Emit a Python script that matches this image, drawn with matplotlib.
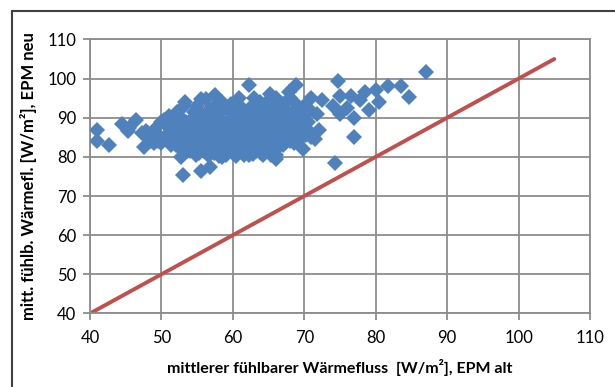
import matplotlib.pyplot as plt
from matplotlib.lines import Line2D

# EPM alt (x) vs EPM neu (y), mittlerer fuehlbarer Waermefluss [W/m2]
epm_alt = [
    41, 41, 42.7, 44.5, 45.3, 45.5, 46.5, 47.3, 47.5, 48.5, 49, 50, 50.3, 51, 49.5,
    53, 55.5, 56.8, 52.8, 58.5,
    53.2, 53.3, 55.5, 56.2, 57.5, 60.8, 62.2, 63, 65.2, 66, 67.8, 68.8, 68.5, 70,
    71, 72.5, 74, 74.7, 75, 75, 76, 76.5, 77, 77, 74.3, 77.8, 78.5, 79, 80, 80.5,
    81.7, 83.5, 84.7, 87, 69.8, 71, 71.5, 72, 71.8, 66, 65.3, 67.3, 70.5,
    50.5, 51, 51.5, 51.8, 52, 52.3, 52.5, 52.8, 53, 53.2, 53.5, 53.6, 53.8, 54,
    54.2, 54.4, 54.5, 54.7, 55, 55.1, 55.3, 55.5, 55.6, 55.8, 56, 56.1, 56.3, 56.4,
    56.6, 56.7, 56.9, 57, 57.2, 57.3, 57.5, 57.6, 57.8, 58, 58.1, 58.3, 58.4, 58.6,
    58.7, 58.9, 59, 59.2, 59.3, 59.5, 59.6, 59.8, 60, 60.1, 60.3, 60.4, 60.6, 60.7,
    60.9, 61, 61.2, 61.3, 61.5, 61.6, 61.8, 62, 62.1, 62.3, 62.4, 62.6, 62.7, 62.9,
    63, 63.2, 63.3, 63.5, 63.6, 63.8, 64, 64.1, 64.3, 64.4, 64.6, 64.7, 64.9, 65,
    65.2, 65.3, 65.5, 65.6, 65.8, 66, 66.1, 66.3, 66.4, 66.6, 66.7, 66.9, 67, 67.2,
    67.3, 67.5, 67.6, 67.8, 68, 68.1, 68.3, 68.4, 68.6, 68.8, 69, 69.2, 69.5, 69.8,
    70, 70.2, 70.5, 70.8,
    51, 51.3, 52, 52.6, 53.3, 53.9, 54.3, 54.8, 55.2, 55.7, 56.2, 56.5, 57.1, 57.4,
    57.9, 58.2, 58.8, 59.1, 59.4, 59.7, 60.2, 60.5, 60.8, 61.1, 61.4, 61.9, 62.2,
    62.5, 62.8, 63.1, 63.4, 63.7, 63.9, 64.2, 64.5, 64.8, 65.1, 65.4, 65.7, 66.2,
    66.5, 66.8, 67.1, 67.4, 67.7, 68.2, 68.5, 68.9, 69.3, 69.6, 70.3, 57.5, 58.5,
    59.8, 61, 62.5, 63.8, 64.5, 65.8, 67, 68, 69.2, 55, 54.5, 56, 52.2, 53, 66,
    64.2, 62.8, 60.5, 58, 56, 54, 52.5, 51.8, 50, 49.5, 50.8, 48, 47.8, 49,
]
epm_neu = [
    87, 84, 83, 88.5, 86.5, 87.5, 89.5, 86, 82.5, 84, 83.5, 89, 89.5, 90.5, 84,
    75.3, 76.5, 77.5, 80, 80,
    93, 94, 94.7, 94.7, 95.8, 95, 98.3, 95, 96, 95, 96.5, 98.3, 94, 93,
    95, 94.5, 93, 99.3, 95.5, 91, 92.5, 95.5, 90, 85, 78.5, 94.5, 96.5, 92, 97, 94,
    98, 98, 95.3, 101.7, 82, 85, 84.5, 87, 91, 79.5, 80.5, 83.5, 86,
    85, 86, 84, 87.5, 83, 85.5, 88, 82, 86.5, 84, 89, 81.5, 87, 83,
    85, 90, 82, 88, 84.5, 86, 81, 91, 83, 87.5, 85, 89, 82, 84,
    92, 86.5, 81, 88, 83.5, 90, 85.5, 82, 87, 84, 91, 86, 81.5, 89,
    83, 88, 85, 92.5, 82.5, 87, 84.5, 90, 81, 86, 83, 88.5, 85, 91.5,
    82, 87, 84, 89.5, 80.5, 86, 83, 88, 91, 85, 82, 87.5, 93, 84,
    89, 81.5, 86, 83.5, 90.5, 88, 85, 92, 82.5, 87, 89.5, 84, 91, 86,
    83, 88.5, 93, 85, 90, 87, 82, 89, 84.5, 91.5, 86, 88, 83, 90,
    85, 92, 87, 89, 84, 86, 91, 88, 85, 90, 87, 89, 86, 88,
    90.5, 87.5, 89, 92,
    88.5, 83, 90, 86.5, 83, 85.5, 87.5, 80.5, 88.5, 85.5, 87, 80.5, 86, 81,
    89.5, 82.5, 86.5, 80.5, 88.5, 83, 89.5, 84, 86.5, 82.5, 88, 85.5, 80.5,
    89.5, 86, 83, 87.5, 84.5, 81, 88.5, 86, 82.5, 89.5, 84, 87.5, 85.5,
    89.5, 83.5, 87.5, 84, 88, 87, 83.5, 86.5, 84.5, 90, 85.5, 93, 94,
    93.5, 93, 92, 94, 93.5, 94.5, 93.5, 95, 92.5, 93, 91.5, 90.5, 91.5, 89.5, 80.5,
    80.5, 80.8, 80.2, 80.3, 81.5, 81.5, 84, 86, 83.5, 85.5, 88, 85, 86.5, 87,
]
line_x = [40, 105]
line_y = [40, 105]

x_ticks = [40, 50, 60, 70, 80, 90, 100, 110]
y_ticks = [40, 50, 60, 70, 80, 90, 100, 110]

plt.rcParams['font.family'] = ['Lato', 'DejaVu Sans']

fig = plt.figure(figsize=(6.15, 3.87), dpi=100)
ax = fig.add_axes([0.1463, 0.190, 0.8130, 0.708])

ax.plot(line_x, line_y, color='#c0504d', lw=2.8, solid_capstyle='round', zorder=2)
ax.plot(epm_alt, epm_neu, 'D', color='#4f81bd', markersize=8.5, markeredgewidth=0, zorder=3)

ax.set_xlim(40, 110)
ax.set_ylim(40, 110)
ax.set_xticks(x_ticks)
ax.set_yticks(y_ticks)
ax.grid(True, color='#8c8c8c', lw=1.3, zorder=0)
ax.set_axisbelow(True)
for s in ax.spines.values():
    s.set_color('#8c8c8c')
    s.set_linewidth(1.3)
ax.tick_params(colors='#8c8c8c', length=5, width=1.3, labelcolor='black', labelsize=12)
ax.tick_params(axis='x', pad=7)
ax.tick_params(axis='y', pad=5)

ax.set_xlabel('mittlerer fühlbarer Wärmefluss  [W/m²], EPM alt', fontsize=11.5,
              fontweight='bold', labelpad=9)
ax.set_ylabel('mitt. fühlb. Wärmefl. [W/m²], EPM neu', fontsize=12,
              fontweight='bold', labelpad=7)

# outer chart frame (only top and left visible)
fig.add_artist(Line2D([0.0195, 1.0], [0.9716, 0.9716], color='#404040', lw=1.5))
fig.add_artist(Line2D([0.0195, 0.0195], [0.0, 0.9716], color='#404040', lw=1.5))

fig.savefig('out.png', dpi=100)
